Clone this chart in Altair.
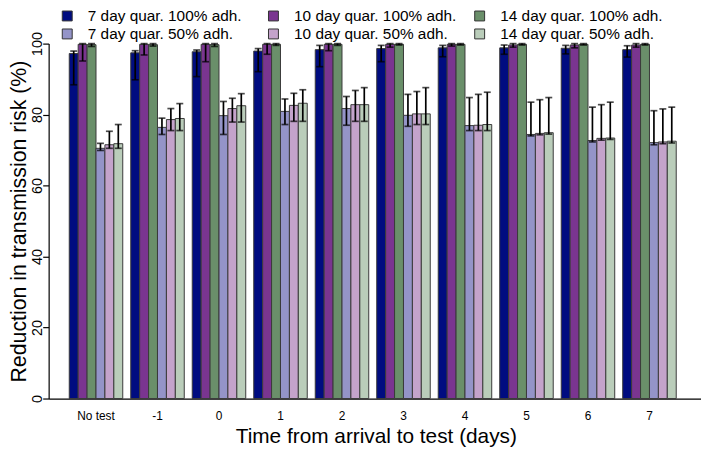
import altair as alt
import pandas as pd

groups = ["No test", "-1", "0", "1", "2", "3", "4", "5", "6", "7"]
series = ["7 day quar. 100% adh.", "10 day quar. 100% adh.", "14 day quar. 100% adh.",
          "7 day quar. 50% adh.", "10 day quar. 50% adh.", "14 day quar. 50% adh."]
colors = ["#000c80", "#7a3590", "#6a8f6a", "#9494c8", "#c4a3cb", "#bacdba"]

q7_100 = [97.2, 97.4, 97.7, 97.9, 98.3, 98.6, 98.8, 98.8, 98.7, 98.3]
q7_100_lo = [88.4, 89.8, 90.7, 92.1, 93.5, 94.9, 96.3, 97.0, 97.1, 96.2]
q7_100_hi = [97.9, 98.0, 98.2, 98.6, 99.5, 99.5, 99.5, 99.6, 99.5, 99.4]

q10_100 = [99.8, 99.8, 99.8, 99.8, 99.8, 99.8, 99.8, 99.6, 99.6, 99.6]
q10_100_lo = [95.1, 96.8, 94.9, 97.0, 98.0, 99.0, 99.3, 99.0, 98.8, 99.0]
q10_100_hi = [100.0, 100.0, 100.0, 100.0, 100.0, 100.0, 100.0, 100.0, 100.0, 100.0]

q14_100 = [99.7, 99.7, 99.7, 99.8, 99.8, 99.8, 99.8, 99.8, 99.8, 99.8]
q14_100_lo = [99.2, 99.3, 99.2, 99.5, 99.5, 99.6, 99.6, 99.6, 99.6, 99.6]
q14_100_hi = [100.0, 100.0, 100.0, 100.0, 100.0, 100.0, 100.0, 100.0, 100.0, 100.0]

q7_50 = [70.5, 76.4, 79.7, 80.9, 81.7, 79.8, 76.9, 74.4, 72.7, 72.1]
q7_50_lo = [69.9, 74.4, 74.4, 77.2, 77.0, 76.7, 75.5, 74.0, 72.3, 71.5]
q7_50_hi = [71.9, 79.0, 83.7, 84.4, 85.1, 85.7, 84.8, 83.5, 82.1, 81.1]

q10_50 = [71.5, 78.6, 81.7, 82.6, 82.8, 80.2, 77.0, 74.7, 73.3, 72.3]
q10_50_lo = [70.5, 75.5, 77.9, 78.1, 78.1, 77.2, 75.5, 74.3, 72.8, 71.8]
q10_50_hi = [75.3, 81.7, 84.6, 86.0, 86.8, 86.5, 85.7, 84.2, 82.8, 81.6]

q14_50 = [71.8, 78.9, 82.5, 83.2, 82.8, 80.2, 77.2, 74.9, 73.4, 72.5]
q14_50_lo = [70.5, 75.5, 77.9, 78.1, 78.1, 77.2, 75.5, 74.5, 73.0, 72.0]
q14_50_hi = [77.2, 83.1, 85.9, 87.0, 87.6, 87.6, 86.3, 84.8, 83.5, 82.1]

means = [q7_100, q10_100, q14_100, q7_50, q10_50, q14_50]
lows = [q7_100_lo, q10_100_lo, q14_100_lo, q7_50_lo, q10_50_lo, q14_50_lo]
highs = [q7_100_hi, q10_100_hi, q14_100_hi, q7_50_hi, q10_50_hi, q14_50_hi]

rows = []
for s, m, lo, hi in zip(series, means, lows, highs):
    for g, mv, lv, hv in zip(groups, m, lo, hi):
        rows.append({"group": g, "series": s, "mean": mv, "lo": lv, "hi": hv})
df = pd.DataFrame(rows)

FONT = "Liberation Sans"

base = alt.Chart(df).encode(
    x=alt.X("group:N", sort=groups,
            scale=alt.Scale(paddingInner=0.13, paddingOuter=0.369, align=0.454),
            axis=alt.Axis(title="Time from arrival to test (days)", labelAngle=0,
                          ticks=False, tickSize=0, labelPadding=12, labelFontSize=12,
                          titleFontSize=21, titleFontWeight="normal",
                          titleBaseline="alphabetic", titleY=44, titleX=330,
                          domainColor="black", domainWidth=1.2)),
    xOffset=alt.XOffset("series:N", sort=series,
                        scale=alt.Scale(paddingInner=0, paddingOuter=0)),
)

bars = base.mark_bar(stroke="#3a3a3a", strokeWidth=1).encode(
    y=alt.Y("mean:Q", scale=alt.Scale(domain=[0, 100], nice=False),
            axis=alt.Axis(title="Reduction in transmission risk (%)",
                          values=[0, 20, 40, 60, 80, 100], grid=False,
                          labelAngle=270, labelAlign="center", labelBaseline="alphabetic",
                          labelFontSize=14.5, labelPadding=1, tickSize=6,
                          titleFontSize=21.5, titleFontWeight="normal",
                          titleAngle=270, titleBaseline="alphabetic",
                          titleX=-23.5, titleY=179,
                          domainColor="black", domainWidth=1.2,
                          tickColor="black", tickWidth=1.2)),
    color=alt.Color("series:N", sort=series,
                    scale=alt.Scale(domain=series, range=colors),
                    legend=alt.Legend(title=None, orient="none", legendX=11, legendY=-36,
                                      direction="horizontal", columns=3, gridAlign="all",
                                      columnPadding=15, rowPadding=1.5, padding=0,
                                      symbolType="square", symbolSize=100,
                                      symbolStrokeColor="#333333", symbolStrokeWidth=1,
                                      symbolOpacity=1,
                                      labelFontSize=15.5, labelOffset=13, labelLimit=400,
                                      labelColor="black")),
)

rules = base.mark_rule(color="black", strokeWidth=1.7).encode(
    y="lo:Q", y2="hi:Q")
caps_lo = base.mark_tick(color="black", thickness=1.7, size=7, orient="horizontal").encode(
    y="lo:Q")
caps_hi = base.mark_tick(color="black", thickness=1.7, size=7, orient="horizontal").encode(
    y="hi:Q")

chart = alt.layer(bars, rules, caps_lo, caps_hi).properties(
    width=658, height=358,
    autosize=alt.AutoSizeParams(type="none"),
    padding={"left": 41, "top": 34, "right": 0, "bottom": 51},
).configure(font=FONT).configure_axis(
    labelColor="black", titleColor="black", labelFont=FONT, titleFont=FONT
).configure_legend(labelFont=FONT).configure_view(stroke=None)

chart.save("out.html", embed_options={"renderer": "svg", "actions": False})
